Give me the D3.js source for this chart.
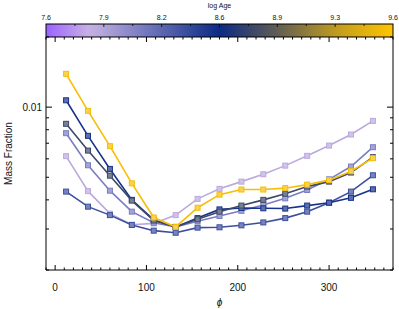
<!DOCTYPE html>
<html>
<head>
<meta charset="utf-8">
<style>
  body { margin: 0; background: #fff; }
  text { font-family: "Liberation Sans", Arial, sans-serif; fill: #111; }
</style>
</head>
<body>
<svg width="399" height="309"></svg>
<script src="https://d3js.org/d3.v7.min.js"></script>
<script>

    /* --------------------
     Data
   -------------------- */

    var phi = [12, 36, 60, 84, 108, 132, 156, 180, 204, 228, 252, 276, 300, 324, 348];

    // log Age of each curve (colour comes from the colour bar)
    var logAges = [7.9, 8.15, 8.4, 8.55, 8.8, 9.55];

    var lavender = [0.00616, 0.00436, 0.00349, 0.00313, 0.00317, 0.00344, 0.00404, 0.00446, 0.00479, 0.00515, 0.00561, 0.00618, 0.00684, 0.00763, 0.00873];
    var purple   = [0.00773, 0.00563, 0.00438, 0.00356, 0.00319, 0.00306, 0.00324, 0.00341, 0.00359, 0.0038, 0.00406, 0.00441, 0.0049, 0.00556, 0.00673];
    var slate    = [0.00434, 0.00374, 0.00344, 0.00312, 0.00295, 0.00289, 0.00304, 0.00305, 0.00311, 0.0032, 0.00334, 0.00356, 0.00389, 0.00434, 0.0051];
    var navy     = [0.0107, 0.00753, 0.00543, 0.0040, 0.00328, 0.00306, 0.00334, 0.00364, 0.00369, 0.00368, 0.00367, 0.00378, 0.00389, 0.00408, 0.00444];
    var grey     = [0.00848, 0.00651, 0.00508, 0.00397, 0.00326, 0.00306, 0.0033, 0.00356, 0.00378, 0.0040, 0.00425, 0.00456, 0.00479, 0.00524, 0.0061];
    var gold     = [0.0139, 0.00964, 0.0068, 0.00471, 0.00336, 0.00306, 0.0037, 0.00421, 0.00443, 0.00443, 0.00449, 0.00465, 0.00486, 0.00531, 0.00604];

    var series = [lavender, purple, slate, navy, grey, gold];

    var xTicks = [0, 100, 200, 300];
    var yTicks = [0.01];
    var ageTicks = [7.6, 7.9, 8.2, 8.6, 8.9, 9.3, 9.6];

    /* --------------------
     Layout
   -------------------- */

    var svg = d3.select("svg");

    var pLeft = 46, pRight = 393, pTop = 37, pBottom = 270;
    var barTop = 24;

    var x = d3.scaleLinear().domain([-10, 370]).range([pLeft, pRight]);
    var y = d3.scaleLog().domain([0.002, 0.02]).range([pBottom, pTop]);

    // colour bar scale
    var age = d3.scaleLinear().domain([7.6, 9.6]).range([pLeft, pRight]);
    var color = d3.scaleLinear()
        .domain([7.6, 7.85, 8.2, 8.6, 8.9, 9.3, 9.6])
        .range(["#9b62ff", "#c8b2e4", "#6d74bb", "#0b2a84", "#585858", "#c6a01c", "#ffc400"])
        .interpolate(d3.interpolateRgb);

    /* --------------------
     Colour bar
   -------------------- */

    var grad = svg.append("defs").append("linearGradient")
        .attr("id", "bar")
        .attr("x1", 0).attr("x2", 1).attr("y1", 0).attr("y2", 0);

    d3.range(0, 1.0001, 0.02).forEach(function(t) {
        grad.append("stop")
            .attr("offset", t)
            .attr("stop-color", color(7.6 + 2 * t));
    });

    svg.append("rect")
        .attr("x", pLeft).attr("y", barTop)
        .attr("width", pRight - pLeft).attr("height", pTop - barTop)
        .attr("fill", "url(#bar)")
        .attr("stroke", "#000").attr("stroke-width", 1);

    // small ticks on the bar, every 1/12
    svg.append("g").selectAll("line")
        .data(d3.range(1, 12))
        .enter().append("line")
        .attr("x1", function(d) { return pLeft + d * (pRight - pLeft) / 12; })
        .attr("x2", function(d) { return pLeft + d * (pRight - pLeft) / 12; })
        .attr("y1", barTop)
        .attr("y2", function(d) { return barTop + (d % 2 ? 2 : 3); })
        .attr("stroke", "#000").attr("stroke-width", 0.8);

    svg.append("g").selectAll("text")
        .data(ageTicks)
        .enter().append("text")
        .attr("x", function(d, i) { return pLeft + i * (pRight - pLeft) / 6; })
        .attr("y", 20)
        .attr("text-anchor", "middle")
        .attr("font-size", 7)
        .text(function(d) { return d3.format(".1f")(d); });

    svg.append("text")
        .attr("x", age(8.6)).attr("y", 8)
        .attr("text-anchor", "middle")
        .attr("font-size", 7)
        .text("log Age");

    /* --------------------
     Axes frame
   -------------------- */

    var frame = svg.append("g").attr("stroke", "#000").attr("stroke-width", 1);

    frame.append("line").attr("x1", pLeft).attr("x2", pLeft).attr("y1", pTop).attr("y2", pBottom);
    frame.append("line").attr("x1", pRight).attr("x2", pRight).attr("y1", pTop).attr("y2", pBottom);
    frame.append("line").attr("x1", pLeft).attr("x2", pRight).attr("y1", pBottom).attr("y2", pBottom);

    // x ticks, bottom and top, pointing inward
    var xMinor = d3.range(-10, 371, 10);
    frame.append("g").selectAll("line")
        .data(xMinor)
        .enter().append("line")
        .attr("x1", function(d) { return x(d); })
        .attr("x2", function(d) { return x(d); })
        .attr("y1", pBottom)
        .attr("y2", function(d) { return pBottom - (d % 100 === 0 ? 5 : 2.5); });

    frame.append("g").selectAll("line")
        .data(xMinor)
        .enter().append("line")
        .attr("x1", function(d) { return x(d); })
        .attr("x2", function(d) { return x(d); })
        .attr("y1", pTop)
        .attr("y2", function(d) { return pTop + (d % 100 === 0 ? 5 : 2.5); });

    // y ticks, left and right
    var yMinor = [0.002, 0.003, 0.004, 0.005, 0.006, 0.007, 0.008, 0.009, 0.01, 0.02];
    [pLeft, pRight].forEach(function(x0, k) {
        var dir = k === 0 ? 1 : -1;
        frame.append("g").selectAll("line")
            .data(yMinor)
            .enter().append("line")
            .attr("x1", x0)
            .attr("x2", function(d) { return x0 + dir * (yTicks.indexOf(d) >= 0 ? 6 : 3); })
            .attr("y1", function(d) { return y(d); })
            .attr("y2", function(d) { return y(d); });
    });

    svg.append("g").selectAll("text")
        .data(xTicks)
        .enter().append("text")
        .attr("x", function(d) { return x(d); })
        .attr("y", 291)
        .attr("text-anchor", "middle")
        .attr("font-size", 10)
        .text(function(d) { return d; });

    svg.append("g").selectAll("text")
        .data(yTicks)
        .enter().append("text")
        .attr("x", pLeft - 4)
        .attr("y", function(d) { return y(d) + 3.5; })
        .attr("text-anchor", "end")
        .attr("font-size", 10)
        .text(function(d) { return d; });

    svg.append("text")
        .attr("transform", "translate(12," + ((pTop + pBottom) / 2) + ") rotate(-90)")
        .attr("text-anchor", "middle")
        .attr("font-size", 10)
        .text("Mass Fraction");

    svg.append("text")
        .attr("x", x(180)).attr("y", 306)
        .attr("text-anchor", "middle")
        .attr("font-size", 10)
        .attr("font-style", "italic")
        .text("\u03d5");

    /* --------------------
     Curves
   -------------------- */

    var line = d3.line()
        .x(function(d, i) { return x(phi[i]); })
        .y(function(d) { return y(d); });

    svg.append("g").selectAll("g")
        .data(series)
        .enter().append("g")
        .each(function(vals, k) {
            var c = color(logAges[k]);
            var g = d3.select(this);
            g.append("path")
                .attr("d", line(vals))
                .attr("fill", "none")
                .attr("stroke", c)
                .attr("stroke-width", 1.6);
            g.selectAll("rect")
                .data(vals)
                .enter().append("rect")
                .attr("x", function(d, i) { return x(phi[i]) - 2.5; })
                .attr("y", function(d) { return y(d) - 2.5; })
                .attr("width", 5).attr("height", 5)
                .attr("fill", d3.interpolateRgb(c, "#fff")(0.3))
                .attr("stroke", c)
                .attr("stroke-width", 1);
        });

</script>
</body>
</html>
